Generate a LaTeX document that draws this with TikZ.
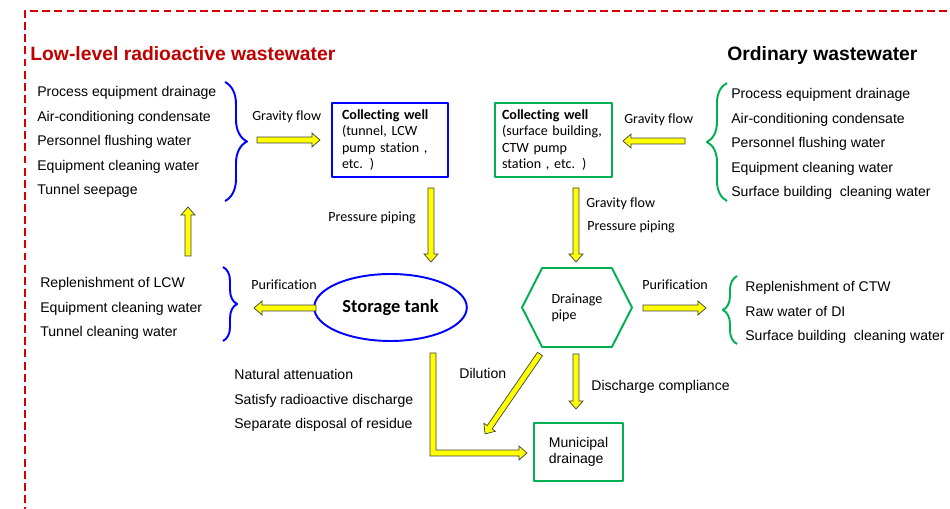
\documentclass[tikz,border=0pt]{standalone}
\usepackage{fontspec}
\setmainfont{Liberation Sans}
\newfontfamily\carl[Ligatures=NoCommon]{Carlito}
\usetikzlibrary{calc,shapes.geometric,shapes.symbols,decorations.pathreplacing}

\definecolor{lcwblue}{RGB}{0,0,255}
\definecolor{ctwgreen}{RGB}{0,176,80}
\definecolor{framered}{RGB}{215,0,0}
\definecolor{titred}{RGB}{192,0,0}
\definecolor{arryellow}{RGB}{255,255,0}

% block arrow sizes
\def\bw{1.7pt} \def\hw{4pt} \def\hl{4.6pt}

\tikzset{
  frameline/.style={draw=framered, line width=1.3pt, dash pattern=on 4.5pt off 2.4pt},
  title/.style={anchor=base west, inner sep=0pt, font=\bfseries\fontsize{11}{13}\selectfont},
  lst/.style={anchor=north west, align=left, inner sep=0pt, font=\fontsize{8}{14}\selectfont},
  clbl/.style={anchor=base west, inner sep=0pt, font=\carl\fontsize{8}{9.6}\selectfont},
  albl/.style={anchor=base west, inner sep=0pt, font=\fontsize{8}{9.6}\selectfont},
  brc/.style={decorate, decoration={brace, amplitude=8pt}, line width=1.1pt},
  well/.style={draw, line width=1.1pt, align=left, inner xsep=0.2cm, minimum height=1.48cm,
    font=\carl\fontsize{8}{9.4}\selectfont},
  tank/.style={ellipse, draw=lcwblue, line width=1.1pt, minimum width=2.74cm, minimum height=1.34cm,
    font=\carl\bfseries\fontsize{10.5}{12}\selectfont},
  pipe/.style={signal, signal to=east and west, signal pointer angle=126, draw=ctwgreen, line width=1.1pt,
    minimum width=2.2cm, minimum height=1.58cm, inner sep=1pt, align=left, font=\carl\fontsize{8}{9.1}\selectfont},
  muni/.style={draw=ctwgreen, line width=1.1pt, align=left, minimum width=1.78cm, minimum height=1.16cm,
    font=\fontsize{8}{9.3}\selectfont},
  blockarr/.style={fill=arryellow, draw=black!75, line width=0.4pt, line join=miter}
}

% yellow block arrow from #1 to #2
\newcommand{\yarrow}[2]{%
  \filldraw[blockarr] let \p1=(#1), \p2=(#2), \n1={atan2(\y2-\y1,\x2-\x1)}, \n2={veclen(\x2-\x1,\y2-\y1)} in
    [shift={(\p1)}, rotate=\n1] (0pt,-\bw) -- (\n2*1pt-\hl,-\bw) -- (\n2*1pt-\hl,-\hw) -- (\n2*1pt,0pt)
    -- (\n2*1pt-\hl,\hw) -- (\n2*1pt-\hl,\bw) -- (0pt,\bw) -- cycle;}

\begin{document}
\begin{tikzpicture}[x=0.02cm, y=-0.02cm, line join=round]
\useasboundingbox (0,0) rectangle (950,509);
% dashed frame
\draw[frameline] (25,515) -- (25,11) -- (956,11);

% titles
\node[title, text=titred] (lowt) at (30,61) {Low-level radioactive wastewater};
\node[title] (ordt) at (727,61) {Ordinary wastewater};

% lists
\node[lst] (lsrc) at (37,86) {Process equipment drainage\\Air-conditioning condensate\\Personnel flushing water\\Equipment cleaning water\\Tunnel seepage};
\node[lst] (rsrc) at (731,88) {Process equipment drainage\\Air-conditioning condensate\\Personnel flushing water\\Equipment cleaning water\\Surface building\ \ cleaning water};
\node[lst] (lreuse) at (40,277) {Replenishment of LCW\\Equipment cleaning water\\Tunnel cleaning water};
\node[lst] (rreuse) at (745,281) {Replenishment of CTW\\Raw water of DI\\Surface building\ \ cleaning water};
\node[lst] (lnote) at (234,369) {Natural attenuation\\Satisfy radioactive discharge\\Separate disposal of residue};

% braces
\draw[brc, lcwblue, decoration={amplitude=12.5pt}] (225,82) -- (225,201);
\draw[brc, lcwblue] (223,267) -- (223,341);
\draw[brc, ctwgreen, decoration={amplitude=11.4pt}] (727,201) -- (727,83);
\draw[brc, ctwgreen] (737,344) -- (737,276);

% boxes
\node[well, draw=lcwblue, text width=1.92cm] (cwl) at (390,140) {\textbf{Collecting well}\\(tunnel, LCW\\pump station ,\\etc. )};
\node[well, draw=ctwgreen, text width=2.06cm, inner xsep=0.14cm] (cwr) at (553.5,140) {\textbf{Collecting well}\\(surface building,\\CTW pump\\station , etc. )};
\node[tank] (tnk) at (390.5,307.5) {Storage tank};
\node[pipe] (drp) at (577,307.5) {Drainage\\pipe};
\node[muni] (mun) at (578.5,452) {Municipal\\drainage};

% arrow labels
\node[clbl] (gfl) at (252,121) {Gravity flow};
\node[clbl] (gfr) at (624,124) {Gravity flow};
\node[clbl] (ppl) at (328,222) {Pressure piping};
\node[clbl] (gfd) at (586,208) {Gravity flow};
\node[clbl] (ppd) at (587,231) {Pressure piping};
\node[clbl] (pul) at (251,290) {Purification};
\node[clbl] (pur) at (642,290) {Purification};
\node[albl] (dil) at (459,379) {Dilution};
\node[albl] (dis) at (591,391) {Discharge compliance};

% arrow ends
\coordinate (a1s) at (257,140); \coordinate (a1e) at (320,140);
\coordinate (a2s) at (685,141); \coordinate (a2e) at (623,141);
\coordinate (a3s) at (431,188); \coordinate (a3e) at (431,262);
\coordinate (a4s) at (576,188); \coordinate (a4e) at (576,262);
\coordinate (a5s) at (188,256); \coordinate (a5e) at (188,207);
\coordinate (a6s) at (316,308); \coordinate (a6e) at (254,308);
\coordinate (a7s) at (643,308); \coordinate (a7e) at (706,308);
\coordinate (a8s) at (540,354); \coordinate (a8e) at (485,434);
\coordinate (a9s) at (576,354); \coordinate (a9e) at (576,409);
\coordinate (ls) at (433,353); \coordinate (lc) at (433,453); \coordinate (le) at (527,453);

% yellow arrows
\yarrow{a1s}{a1e}
\yarrow{a2s}{a2e}
\yarrow{a3s}{a3e}
\yarrow{a4s}{a4e}
\yarrow{a5s}{a5e}
\yarrow{a6s}{a6e}
\yarrow{a7s}{a7e}
\yarrow{a8s}{a8e}
\yarrow{a9s}{a9e}
\filldraw[blockarr] let \p1=(ls), \p2=(lc), \p3=(le) in (\x1-\bw,\y1) -- (\x1-\bw,\y2-\bw) -- (\x3-\hl,\y2-\bw)
  -- (\x3-\hl,\y2-\hw) -- (\x3,\y2) -- (\x3-\hl,\y2+\hw) -- (\x3-\hl,\y2+\bw) -- (\x1+\bw,\y2+\bw) -- (\x1+\bw,\y1) -- cycle;
\end{tikzpicture}
\end{document}
